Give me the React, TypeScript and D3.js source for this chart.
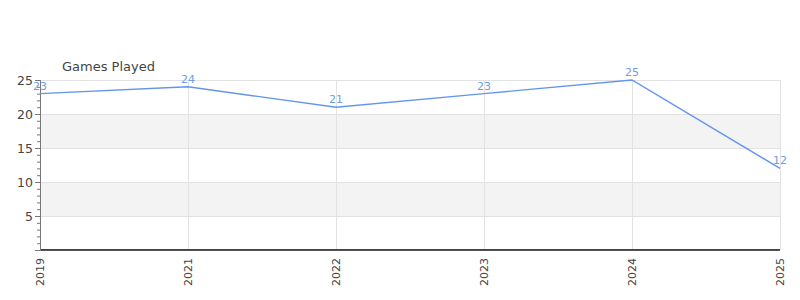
import React from "react";
import * as d3 from "d3";

const categories = ["2019", "2021", "2022", "2023", "2024", "2025"];
const gamesPlayed = [23, 24, 21, 23, 25, 12];
const yTicks = [5, 10, 15, 20, 25];
const title = "Games Played";

export default function App() {
  const W = 800, H = 300;
  const left = 40, right = 780, top = 80, bottom = 250;
  const x = d3.scalePoint<string>().domain(categories).range([left, right]);
  const y = d3.scaleLinear().domain([0, 25]).range([bottom, top]);
  const line = d3.line<number>().x((_, i) => x(categories[i])!).y((d) => y(d));
  const minor = d3.range(0, 26, 1);
  const bands = [[5, 10], [15, 20]];
  const font = "DejaVu Sans, sans-serif";
  return (
    <svg width={W} height={H} style={{ position: "absolute", left: 0, top: 0 }} fontFamily={font}>
      <rect x={0} y={0} width={W} height={H} fill="#fff" />
      {bands.map(([a, b], i) => (
        <rect key={i} x={left} y={y(b)} width={right - left} height={y(a) - y(b)} fill="#f3f3f3" />
      ))}
      {yTicks.map((t) => (
        <line key={t} x1={left} x2={right} y1={y(t) + 0.5} y2={y(t) + 0.5} stroke="#e2e2e2" />
      ))}
      {categories.map((c) => (
        <line key={c} x1={x(c)! + 0.5} x2={x(c)! + 0.5} y1={top} y2={bottom} stroke="#e2e2e2" />
      ))}
      <line x1={left} x2={right} y1={bottom - 0.5} y2={bottom - 0.5} stroke="#d00" strokeWidth={1} />
      <line x1={left} x2={right} y1={bottom + 0.5} y2={bottom + 0.5} stroke="#555" strokeWidth={1} />
      <line x1={left + 0.5} x2={left + 0.5} y1={top} y2={bottom + 1} stroke="#777" />
      {minor.map((t) => (
        <line key={t} x1={t % 5 === 0 ? left - 5 : left - 3} x2={left} y1={y(t) + 0.5} y2={y(t) + 0.5} stroke="#777" />
      ))}
      {yTicks.map((t) => (
        <text key={t} x={33} y={y(t) + 4.5} textAnchor="end" fontSize={12.5} fill="#444">{t}</text>
      ))}
      {categories.map((c) => (
        <text key={c} transform={`translate(${x(c)! + 4},258) rotate(-90)`} textAnchor="end" fontSize={11} fill="#444">{c}</text>
      ))}
      <path d={line(gamesPlayed)!} fill="none" stroke="#6495ed" strokeWidth={1.4} />
      {gamesPlayed.map((v, i) => (
        <text key={i} x={x(categories[i])} y={y(v) - 4} textAnchor="middle" fontSize={11} fill="#6f9be8">{v}</text>
      ))}
      <text x={62} y={71} fontSize={13} fill="#444">{title}</text>
    </svg>
  );
}
